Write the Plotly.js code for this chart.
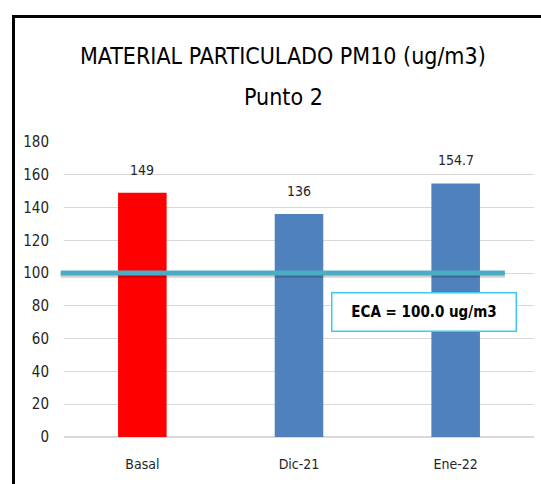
<!DOCTYPE html>
<html>
<head>
<meta charset="utf-8">
<script src="https://cdn.plot.ly/plotly-3.0.1.min.js"></script>
<style>
html,body{margin:0;padding:0;background:#fff;}
#wrap{position:relative;width:541px;height:484px;}
#chart{position:absolute;left:0;top:0;width:541px;height:484px;}
#frame{position:absolute;left:12px;top:15px;width:541px;height:480px;border-left:3px solid #000;border-top:3px solid #000;pointer-events:none;}
</style>
</head>
<body>
<div id="wrap"><div id="chart"></div><div id="frame"></div></div>
<script>
const categories = ["Basal", "Dic-21", "Ene-22"];
const values = [149, 136, 154.7];
const labels = ["149", "136", "154.7"];
const barColors = ["#FF0000", "#4F81BD", "#4F81BD"];
const ecaValue = [100];
const ecaLabel = ["ECA = 100.0 ug/m3"];
const yTicks = [0, 20, 40, 60, 80, 100, 120, 140, 160, 180];

const FONT = "'DejaVu Sans Condensed', 'Liberation Sans', sans-serif";

const trace = {
  type: "bar",
  x: categories,
  y: values,
  marker: {color: barColors},
  hoverinfo: "none"
};

const labelAnnotations = categories.map((c, i) => ({
  x: c, y: values[i], xref: "x", yref: "y", text: labels[i],
  showarrow: false, xanchor: "center", yanchor: "bottom", yshift: 13,
  font: {family: FONT, size: 14, color: "#262626"}
}));

const layout = {
  width: 541, height: 484,
  margin: {l: 63.5, r: 7, t: 142, b: 47},
  paper_bgcolor: "#fff", plot_bgcolor: "#fff",
  showlegend: false,
  bargap: 0.69,
  font: {family: FONT, color: "#262626", size: 14},
  xaxis: {
    type: "category",
    showgrid: false,
    showline: false,
    zeroline: false,
    ticks: "",
    tickfont: {family: FONT, size: 14, color: "#262626"},
    ticklabelstandoff: 17
  },
  yaxis: {
    range: [0, 180],
    tickvals: yTicks,
    ticktext: yTicks.map(String),
    showgrid: true,
    gridcolor: "#D9D9D9",
    gridwidth: 1,
    zeroline: true,
    zerolinecolor: "#D9D9D9",
    zerolinewidth: 1.5,
    showline: false,
    ticks: "",
    tickfont: {family: FONT, size: 15, color: "#262626"},
    ticklabelstandoff: 14
  },
  shapes: [
    {type: "line", xref: "paper", yref: "y", x0: -0.007, x1: 0.938, y0: ecaValue[0] - 1.3, y1: ecaValue[0] - 1.3,
     line: {color: "rgba(0,0,0,0.18)", width: 5}},
    {type: "line", xref: "paper", yref: "y", x0: -0.007, x1: 0.938, y0: ecaValue[0], y1: ecaValue[0],
     line: {color: "#4BACC6", width: 5}}
  ],
  annotations: labelAnnotations.concat([
    {xref: "paper", yref: "paper", x: (283 - 63.5) / 470.5, y: 1 + (142 - 56) / 295, text: "MATERIAL PARTICULADO PM10 (ug/m3)",
     showarrow: false, xanchor: "center", yanchor: "middle",
     font: {family: FONT, size: 23, color: "#000"}},
    {xref: "paper", yref: "paper", x: (283 - 63.5) / 470.5, y: 1 + (142 - 97) / 295, text: "Punto 2",
     showarrow: false, xanchor: "center", yanchor: "middle",
     font: {family: FONT, size: 23, color: "#000"}},
    {xref: "paper", yref: "paper", x: (424 - 63.5) / 470.5, y: (437 - 311.5) / 295, text: "<b>" + ecaLabel[0] + "</b>",
     showarrow: false, xanchor: "center", yanchor: "middle",
     width: 183, height: 37, valign: "middle", align: "center", yshift: 0,
     bordercolor: "#3FC8F0", borderwidth: 1.5, borderpad: 0, bgcolor: "#fff",
     font: {family: FONT, size: 15, color: "#000"}}
  ])
};

Plotly.newPlot("chart", [trace], layout, {displayModeBar: false, staticPlot: true});
</script>
</body>
</html>
